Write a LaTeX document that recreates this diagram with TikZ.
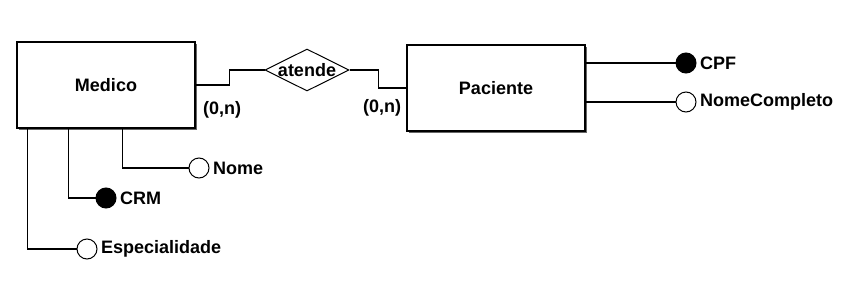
\documentclass[tikz,border=0pt]{standalone}
\usepackage{fontspec}
\setmainfont{Liberation Sans}
\usetikzlibrary{shapes.geometric,shadows}

\begin{document}
\begin{tikzpicture}[x=1pt,y=-1pt,font=\fontsize{18}{21}\selectfont\bfseries,
  entity/.style={draw,line width=1.4pt,fill=white,minimum width=178pt,minimum height=86pt,
    drop shadow={shadow xshift=1.5pt,shadow yshift=-1.5pt,fill=black!60,opacity=1}},
  rel/.style={diamond,draw,line width=1pt,minimum width=84pt,minimum height=42pt,inner sep=0pt},
  attr/.style={circle,draw,line width=1pt,fill=white,minimum size=20pt,inner sep=0pt,
    label distance=1.5pt},
  keyattr/.style={attr,fill=black},
  link/.style={line width=1.2pt}]
  \useasboundingbox (0,0) rectangle (861,289);
  % entities and relationship
  \node[entity] (medico) at (106,85) {Medico};
  \node[entity] (paciente) at (496,88) {Paciente};
  \node[rel,label=center:atende] (atende) at (307,70) {};
  \draw[link] (medico.east) -- ++(34,0) |- (atende.west);
  \draw[link] (atende.east) -- ++(29,0) |- (paciente.west);
  \node (cardm) at (222,110) {(0,n)};
  \node (cardp) at (382,108) {(0,n)};
  % attributes of Medico
  \foreach \name/\kind/\dx/\x/\y/\txt in {nome/attr/106/199/168/Nome,
      crm/keyattr/52/106/198/CRM, esp/attr/11/87/249/Especialidade} {
    \node[\kind,label=right:\txt] (\name) at (\x,\y) {};
    \draw[link] ([xshift=\dx pt]medico.south west) |- (\name.west);
  }
  % attributes of Paciente
  \node[keyattr,label=right:CPF] (cpf) at (686,63) {};
  \node[attr,label=right:NomeCompleto] (nomec) at (686,102) {};
  \draw[link] ([yshift=25pt]paciente.east) -- (cpf.west);
  \draw[link] ([yshift=-14pt]paciente.east) -- (nomec.west);
\end{tikzpicture}
\end{document}
